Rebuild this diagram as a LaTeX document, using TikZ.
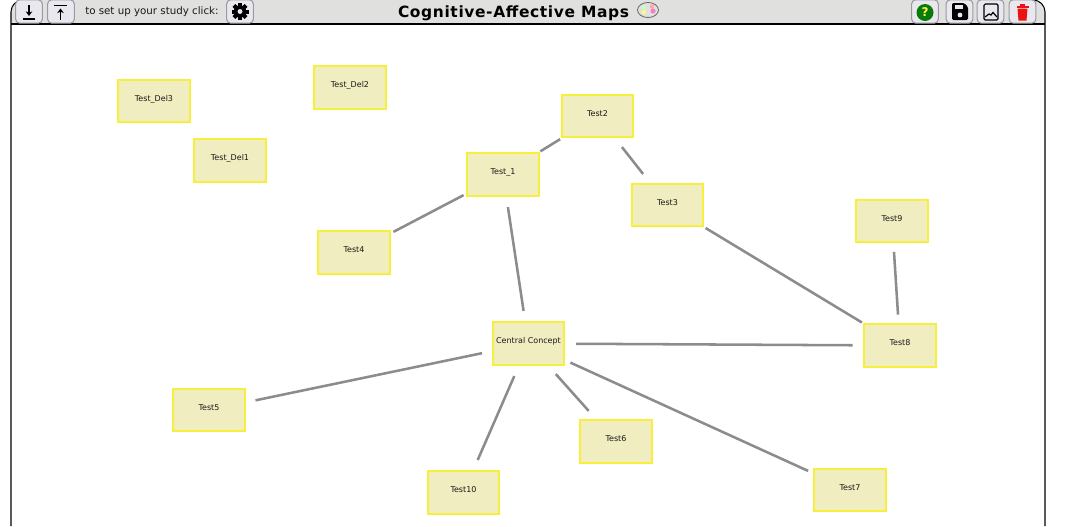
\documentclass[tikz,border=0pt]{standalone}
\usepackage{fontspec}
\usetikzlibrary{arrows.meta}
\setmainfont{DejaVu Sans}
\newfontfamily\nodefont{DejaVu Sans}
\definecolor{conceptfill}{HTML}{F0EDC1}
\definecolor{conceptline}{HTML}{F6F03C}
\definecolor{edgegray}{HTML}{8C8C8C}
\definecolor{barfill}{HTML}{E0E0DF}
\definecolor{btnfill}{HTML}{E8E8EE}
\definecolor{btnline}{HTML}{9A9AA4}
\definecolor{helpgreen}{HTML}{0A7A0A}
\definecolor{trashred}{HTML}{EE1111}
\tikzset{
  x=0.75pt,y=-0.75pt,
  concept/.style={draw=conceptline,fill=conceptfill,line width=1.5pt,minimum width=53.4pt,minimum height=32pt,inner sep=0pt,font=\nodefont\fontsize{6}{6}\selectfont,text=black!90,text height=5pt,text depth=5pt},
  link/.style={draw=edgegray,line width=1.9pt},
  gap/.style={shorten <=#1*0.75pt,shorten >=#1*0.75pt},
  btn/.style={draw=btnline,fill=btnfill,rounded corners=3pt,line width=0.8pt,minimum width=20pt,minimum height=17.5pt,inner sep=0pt},
  headerline/.style={draw=black,line width=0.8pt},
  small label/.style={font=\fontsize{7.7}{8}\selectfont,inner sep=0pt,text=black!90},
  title label/.style={font=\bfseries\fontsize{11.6}{14}\selectfont,inner sep=0pt,text=black}
}
\begin{document}
\begin{tikzpicture}
\useasboundingbox (0,0) rectangle (1067,526);
\fill[white] (0,0) rectangle (1067,526);
% frame
\fill[barfill] (11,24) -- (11,12) arc[start angle=180,end angle=90,radius=9pt] -- (1033,0) arc[start angle=90,end angle=0,radius=9pt] -- (1045,24) -- cycle;
\draw[headerline] (11,526) -- (11,12) arc[start angle=180,end angle=90,radius=9pt];
\draw[headerline] (1033,0) arc[start angle=90,end angle=0,radius=9pt] -- (1045,526);
\draw[headerline] (11,24) -- (1045,24);
% buttons
\node[btn] (bdown) at (29,11.5) {};
\node[btn] (bup) at (61,11.5) {};
\node[btn] (bset) at (240,11.5) {};
\node[btn] (bhelp) at (925,11.5) {};
\node[btn] (bsave) at (959.5,11.5) {};
\node[btn] (bimg) at (990.5,11.5) {};
\node[btn] (btrash) at (1022.5,11.5) {};
% icons
\draw[line width=1.3pt] (23,19) -- (35,19);
\draw[line width=1.3pt,-{Stealth[length=3.5pt,width=5pt]}] (29,5) -- (29,16);
\draw[line width=1.3pt] (54,5.5) -- (67,5.5);
\draw[line width=1.3pt,-{Stealth[length=3.5pt,width=5pt]}] (60.5,20) -- (60.5,8.5);
% gear
\fill[black,even odd rule] (240,11.5) circle[radius=6.2] (240,11.5) circle[radius=2.6];
\foreach \a in {0,45,...,315}{\fill[black,rotate around={\a:(240,11.5)}] (238,3) rectangle (242,7);}
% help
\fill[helpgreen] (925,12.5) circle[radius=8.5];
\node[inner sep=0pt,text=yellow!70!white,font=\bfseries\fontsize{9}{9}\selectfont] (qmark) at (925,12.5) {?};
% save
\fill[black,rounded corners=1pt] (952,3) -- (964,3) -- (968,7) -- (968,20) -- (952,20) -- cycle;
\fill[btnfill] (955,4.5) rectangle (963,9);
\fill[btnfill] (960,15) circle[radius=2.4];
% image
\draw[black,line width=0.9pt,rounded corners=1pt] (984,4) rectangle (998,20);
\draw[black,line width=0.9pt] (985,17) -- (989,14) -- (991,15) -- (993,12.5) -- (997,17);
% trash
\fill[trashred] (1016.5,6) rectangle (1028.5,8);
\fill[trashred] (1020,4) rectangle (1025,6.5);
\fill[trashred] (1017.5,8.5) -- (1027.5,8.5) -- (1026.5,20.5) -- (1018.5,20.5) -- cycle;
% header text
\node[small label,anchor=west] (setup) at (85,12) {to set up your study click:};
\node[title label] (title) at (513.5,13) {\addfontfeature{LetterSpace=4}Cognitive-Affective Maps};
% brain
\draw[black!60,line width=0.6pt,fill=barfill] (648,10) ellipse[x radius=10.5,y radius=7.5];
\fill[green!25] (644,7.5) circle[radius=2.2];
\fill[red!35] (652,6.5) circle[radius=2.2];
\fill[yellow!50] (644,12) circle[radius=2.2];
\fill[magenta!50] (653,11) circle[radius=2.6];
% concepts
\node[concept] (del3) at (154,101) {Test\_Del3};
\node[concept] (del2) at (350,87.5) {Test\_Del2};
\node[concept] (del1) at (230,160.5) {Test\_Del1};
\node[concept] (t2) at (597.5,116) {Test2};
\node[concept] (t1) at (503,174.5) {Test\_1};
\node[concept] (t3) at (667.5,205) {Test3};
\node[concept] (t9) at (892,221) {Test9};
\node[concept] (t4) at (354,252.5) {Test4};
\node[concept] (cc) at (528.5,343.5) {Central Concept};
\node[concept] (t8) at (900,345.5) {Test8};
\node[concept] (t5) at (209,410) {Test5};
\node[concept] (t6) at (616,441.5) {Test6};
\node[concept] (t10) at (463.5,492.5) {Test10};
\node[concept] (t7) at (850,490) {Test7};
% connectors
\draw[link,gap=44] (t1.center) -- (t2.center);
\draw[link,gap=39.5] (t2.center) -- (t3.center);
\draw[link,gap=44.5] (t1.center) -- (t4.center);
\draw[link,gap=33] (t1.center) -- (cc.center);
\draw[link,gap=44.5] (t3.center) -- (t8.center);
\draw[link,gap=31] (t9.center) -- (t8.center);
\draw[link,gap=47.5] (cc.center) -- (t8.center);
\draw[link,gap=47.5] (cc.center) -- (t5.center);
\draw[link,gap=35.5] (cc.center) -- (t10.center);
\draw[link,gap=41] (cc.center) -- (t6.center);
\draw[link,gap=46] (cc.center) -- (t7.center);
\end{tikzpicture}
\end{document}
